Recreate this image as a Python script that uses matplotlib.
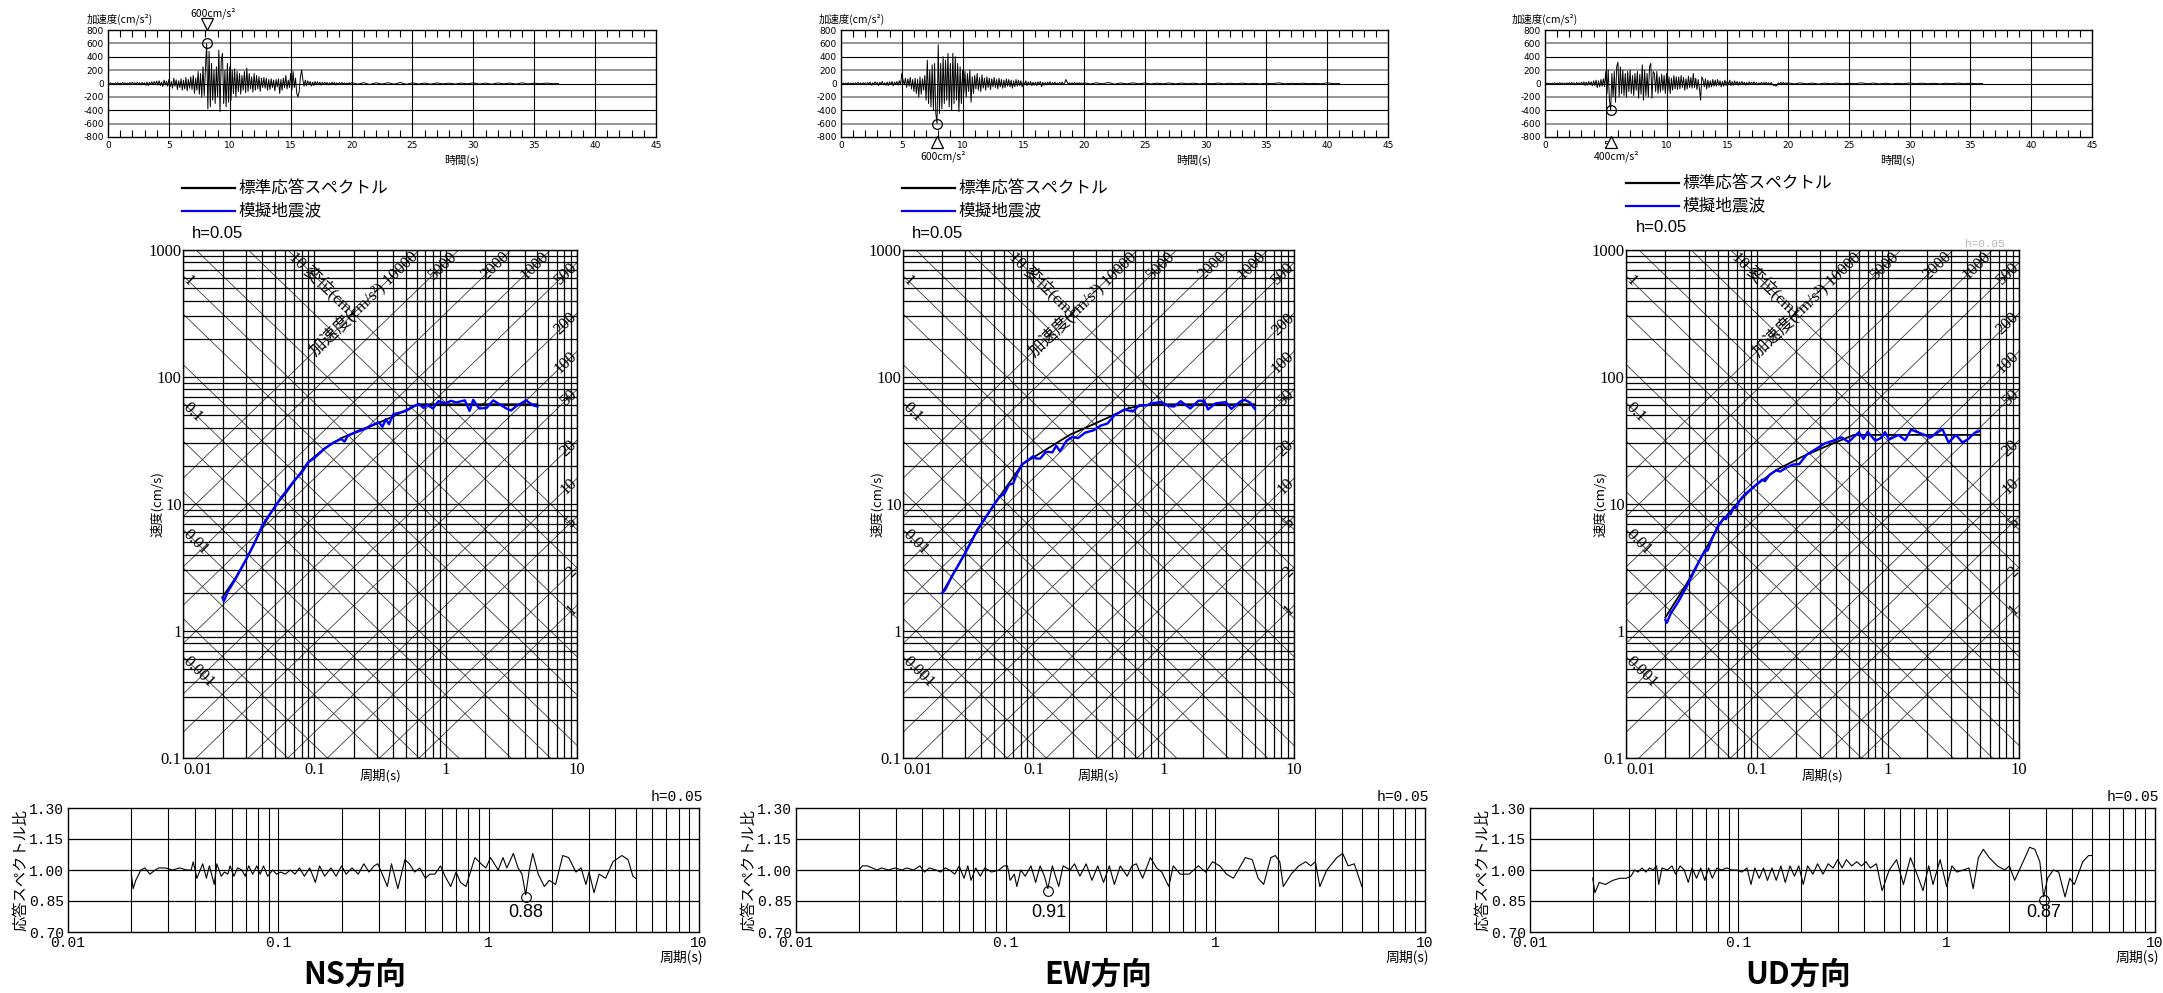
import numpy as np
import matplotlib
matplotlib.use('Agg')
from matplotlib import pyplot as plt
from matplotlib.lines import Line2D
from matplotlib.ticker import LogLocator, NullFormatter
from matplotlib.transforms import blended_transform_factory

plt.rcParams['font.family'] = ['Noto Sans CJK JP', 'DejaVu Sans']
plt.rcParams['axes.linewidth'] = 1.0

SERIF = ['Liberation Serif', 'Noto Sans CJK JP']
MONO = ['Liberation Mono', 'Noto Sans CJK JP']
SANS = ['Liberation Sans', 'Noto Sans CJK JP']
BLUE = '#0000ff'

# ---------------- acceleration time histories (cm/s2) ----------------
# first part: 0.1 s steps from 0 s to 19.9 s, tail: 0.5 s steps from 20 s
ns_acc = [5, -8, 10, -6, 4, -10, 8, -5, 12, -4,
          6, -10, 15, -8, 10, -12, 5, -6, 14, -9,
          20, -10, 12, -15, 18, -8, 10, -20, 15, -12,
          10, -25, 20, -30, 15, -10, 25, -20, 30, -15,
          35, -25, 40, -30, 20, -45, 50, -20, 35, -40,
          60, -50, 30, -70, 80, -40, 55, -90, 40, -60,
          70, -100, 50, -80, 90, -110, 60, -70, 100, -90,
          120, -150, 80, -100, 180, -160, 150, -200, 250, -180,
          200, 600, -380, 480, -350, 300, -250, 200, -300, 250,
          -200, 500, -420, 350, 450, -300, 200, -350, 300, -280,
          250, -250, 200, -150, 220, -200, 180, -120, 150, -160,
          120, -100, 180, -140, 230, -120, 150, -80, 100, -130,
          150, -100, 120, -80, 100, -120, 80, -60, 90, -70,
          80, -100, 60, -90, 70, -60, 50, -110, 60, -50,
          70, -150, 60, -100, 80, -60, 120, -80, 50, -60,
          150, -100, 180, -60, 80, -150, -200, -120, 100, 200,
          60, -40, 50, -30, 40, -20, 30, -40, 20, -30,
          30, -20, 25, -15, 20, -25, 15, -10, 20, -15,
          15, -20, 10, -15, 20, -10, 15, -20, 10, -12,
          12, -10, 15, -8, 10, -12, 8, -10, 12, -8]
ns_acc_tail = [15, -10, 12, -15, 10, -8, 12, -10, 15, -12, 10, -8, 6, -10, 8, -6, 5, -8,
               6, -5, 10, -8, 6, -10, 8, -5, 6, -8, 10, -6, 5, -4, 6, -3, 0]

ew_acc = [10, -5, 8, -10, 6, -4, 12, -8, 5, -6,
          8, -12, 10, -6, 15, -10, 8, -15, 12, -5,
          10, -20, 15, -10, 20, -25, 10, -15, 25, -10,
          15, -30, 20, -15, 30, -20, 10, -25, 20, -30,
          25, -20, 30, -35, 20, -15, 30, -25, 40, -20,
          150, 60, -20, 80, -60, 70, -40, 90, -80, 60,
          -120, 80, -150, 60, -200, 100, -160, 70, -100, 120,
          -250, 350, -300, 200, -350, 280, -400, 300, -450, -600,
          580, -450, 300, -380, 400, -300, 350, -250, 450, -350,
          300, -400, 450, -300, 400, -250, 300, -420, 250, -300,
          200, -150, 180, -200, 150, -120, 200, -280, 100, -150,
          120, -80, 150, -100, 90, -120, 130, -70, 80, -100,
          100, -60, 80, -90, 70, -50, 90, -60, 60, -80,
          80, -50, 60, -70, 50, -60, 70, -40, 60, -50,
          50, -70, 40, -50, 60, -40, 50, -30, 40, -50,
          30, -20, 40, -30, 25, -20, 30, -35, 20, -25,
          20, -30, 25, -15, 30, -50, 20, -25, 15, -20,
          20, -15, 25, -20, 15, -10, 20, -15, 10, -12,
          15, -10, 20, -15, 10, 60, 20, -15, 10, -8,
          10, -12, 15, -8, 10, -10, 12, -6, 8, -10]
ew_acc_tail = [12, -8, 10, -6, 15, -10, 8, -6, 10, -5, 8, -6, 5, -4, 8, -5, 6, -4, 5, -6,
               4, -3, 6, -5, 4, -3, 5, -4, 3, -5, 4, -3, 10, -4, 3, -2, 4, -3, 2, -5, 10, -3, 0]

ud_acc = [5, -4, 8, -6, 4, -8, 6, -5, 8, -4,
          6, -8, 10, -6, 8, -10, 6, -8, 10, -6,
          12, -10, 15, -8, 10, -20, 15, -12, 10, -15,
          20, -15, 25, -30, 20, -25, 30, -20, 25, -35,
          40, -30, 50, -60, 40, -50, 60, -40, 70, -50,
          180, -150, 200, -250, -400, 150, -200, 180, -280, 250,
          320, -200, 250, -150, 200, -180, 150, -200, 180, -120,
          200, -150, 120, -180, 150, -100, 180, -220, 140, -160,
          280, -250, 200, -180, 150, -200, 250, 300, -220, 180,
          150, -120, 180, -150, 100, -130, 140, -100, 120, -150,
          150, -120, 100, -150, 80, -100, 120, -80, 100, -90,
          100, -80, 120, -60, 90, -100, 70, -80, 110, -60,
          90, -70, 150, -60, 80, -90, 60, -70, -250, 100,
          60, -50, 70, -80, 50, -60, 40, -50, 60, -40,
          50, -40, 60, -30, 40, -50, 30, -40, 50, -30,
          40, -20, 50, -30, 30, -25, 40, -20, 30, -25,
          25, -20, 30, -15, 20, -25, 15, -20, 25, -10,
          20, -15, 25, -10, 15, -20, 10, -15, 20, -10,
          15, -10, 20, -15, 10, -20, 15, -10, -30, -20,
          -40, -20, 10, -15, 20, -10, 15, -8, 10, -5]
ud_acc_tail = [10, -6, 8, -5, 6, -8, 5, -4, 6, -5, 4, -3, 10, -4, 6, -5, 4, -6, 3, -4,
               8, -3, 5, -4, 3, -5, 4, -3, 6, -4, 5, -3, 0]

# ---------------- velocity response spectra (cm/s) ----------------
ns_std_T = [0.02, 0.025, 0.03, 0.04, 0.05, 0.06, 0.07, 0.09, 0.12, 0.16, 0.22, 0.3, 0.4, 0.5, 0.62, 5.0]
ns_std_V = [1.85, 2.6, 3.6, 6.5, 9.6, 12.0, 15.0, 21.5, 27.5, 33, 38, 43, 49, 55, 61, 61]
ns_sim_T = [0.02, 0.0205, 0.022, 0.025, 0.03, 0.035, 0.04, 0.045, 0.05, 0.055,
            0.06, 0.07, 0.08, 0.09, 0.1, 0.12, 0.14, 0.16, 0.17, 0.18,
            0.2, 0.22, 0.25, 0.28, 0.31, 0.33, 0.35, 0.37, 0.4, 0.45,
            0.5, 0.55, 0.62, 0.68, 0.72, 0.8, 0.88, 1.0, 1.1, 1.2,
            1.4, 1.52, 1.62, 1.8, 2.05, 2.3, 2.6, 2.9, 3.15, 3.45, 4.1, 4.6, 5.0]
ns_sim_V = [1.82, 1.72, 2.05, 2.55, 3.6, 4.9, 6.7, 8.1, 9.4, 11.0,
            12.3, 15.2, 17.6, 21.3, 23.0, 27.3, 30.5, 32.5, 31.0, 34.5,
            36.2, 37.5, 39.5, 42.0, 44.0, 40.5, 46.5, 42.5, 51.0, 52.5,
            54.0, 57.5, 61.5, 57.0, 60.5, 56.5, 64.5, 62.0, 65.0, 63.0,
            65.5, 54.0, 66.0, 56.5, 57.0, 65.5, 60.5, 56.5, 54.5, 59.0, 65.5, 60.0, 58.5]

ew_std_T = [0.02, 0.027, 0.037, 0.055, 0.082, 0.13, 0.19, 0.32, 0.54, 0.8, 5.0]
ew_std_V = [2.0, 3.4, 6.2, 11.4, 20.5, 27.5, 35, 44.5, 57, 61, 61]
ew_sim_T = [0.02, 0.021, 0.024, 0.027, 0.03, 0.034, 0.037, 0.04, 0.045, 0.05,
            0.055, 0.06, 0.065, 0.07, 0.075, 0.082, 0.09, 0.1, 0.105, 0.113,
            0.125, 0.14, 0.15, 0.16, 0.18, 0.2, 0.22, 0.25, 0.29, 0.33,
            0.37, 0.42, 0.5, 0.58, 0.65, 0.75, 0.8, 0.95, 1.1, 1.2,
            1.35, 1.6, 1.85, 2.05, 2.19, 2.5, 3.0, 3.3, 3.9, 4.2, 4.6, 5.0]
ew_sim_V = [2.0, 2.1, 2.75, 3.4, 4.1, 5.2, 6.2, 7.0, 8.4, 9.9,
            11.4, 12.0, 14.2, 14.5, 17.3, 20.5, 22.0, 23.8, 22.8, 22.8,
            25.8, 25.5, 28.8, 26.0, 31.5, 33.8, 33.0, 36.5, 38.0, 41.5,
            43.0, 50.0, 55.5, 53.5, 60.0, 60.0, 62.0, 63.5, 59.0, 58.5,
            64.5, 56.5, 65.0, 65.0, 55.5, 62.0, 63.5, 56.0, 64.5, 66.0, 63.0, 56.0]

ud_std_T = [0.02, 0.029, 0.04, 0.052, 0.07, 0.094, 0.14, 0.22, 0.38, 0.55, 5.0]
ud_std_V = [1.28, 2.35, 4.3, 7.0, 10.0, 13.6, 18.5, 23.5, 30, 35, 35]
ud_sim_T = [0.02, 0.0205, 0.022, 0.025, 0.029, 0.033, 0.036, 0.04, 0.042, 0.045,
            0.05, 0.056, 0.058, 0.06, 0.063, 0.066, 0.07, 0.073, 0.08, 0.094,
            0.11, 0.115, 0.125, 0.14, 0.15, 0.17, 0.19, 0.21, 0.24, 0.28,
            0.33, 0.38, 0.44, 0.5, 0.6, 0.65, 0.7, 0.8, 0.88, 0.95,
            1.02, 1.2, 1.35, 1.5, 1.9, 2.1, 2.6, 2.9, 3.3, 3.7, 4.1, 4.6, 5.0]
ud_sim_V = [1.22, 1.16, 1.38, 1.69, 2.23, 2.92, 3.5, 4.3, 4.3, 5.2,
            6.6, 7.8, 7.6, 8.3, 8.3, 9.3, 9.4, 10.5, 11.8, 13.6,
            15.6, 15.1, 17.0, 18.4, 18.0, 19.5, 20.5, 20.6, 24.5, 27.0,
            30.0, 31.5, 33.5, 30.8, 36.8, 32.5, 37.0, 31.5, 33.0, 36.8,
            32.2, 35.0, 31.8, 38.5, 35.0, 33.3, 38.9, 30.5, 35.0, 30.5, 32.5, 36.4, 37.5]

# ---------------- response spectrum ratio ----------------
ns_ratio_T = [0.020, 0.0204, 0.021, 0.0222, 0.0232, 0.0245, 0.026, 0.027, 0.029, 0.0314,
              0.034, 0.0366, 0.0385, 0.0394, 0.041, 0.0437, 0.0455, 0.047, 0.0496, 0.051,
              0.0535, 0.0555, 0.0575, 0.059, 0.0615, 0.064, 0.0671, 0.0695, 0.0723, 0.0755,
              0.079, 0.082, 0.085, 0.089, 0.094, 0.098, 0.103, 0.108, 0.114, 0.12,
              0.126, 0.133, 0.141, 0.15, 0.157, 0.166, 0.178, 0.188, 0.2, 0.21,
              0.224, 0.24, 0.255, 0.27, 0.285, 0.297, 0.312, 0.33, 0.345, 0.37,
              0.40, 0.42, 0.445, 0.47, 0.50, 0.525, 0.555, 0.59, 0.62, 0.66,
              0.70, 0.735, 0.78, 0.86, 0.92, 0.97, 1.02, 1.11, 1.17, 1.22,
              1.31, 1.38, 1.44, 1.50, 1.56, 1.62, 1.72, 1.84, 1.94, 2.08,
              2.25, 2.4, 2.6, 2.75, 2.9, 3.0, 3.17, 3.35, 3.6, 3.9,
              4.3, 4.6, 4.85, 5.0]
ns_ratio = [0.98, 0.91, 0.95, 1.00, 1.01, 0.98, 1.00, 1.01, 1.01, 1.00,
            1.01, 1.00, 1.00, 1.04, 0.96, 1.03, 0.96, 1.02, 0.93, 1.03,
            0.97, 0.99, 0.98, 1.02, 0.97, 1.01, 1.00, 0.97, 1.02, 0.98,
            1.02, 0.98, 1.02, 0.97, 1.00, 0.98, 0.99, 0.98, 1.00, 0.98,
            1.01, 0.97, 1.01, 0.94, 1.02, 0.97, 1.01, 0.97, 1.02, 0.98,
            1.01, 0.98, 1.03, 0.99, 1.02, 1.03, 0.98, 0.92, 1.03, 0.91,
            1.05, 1.03, 0.99, 1.01, 0.96, 0.98, 0.98, 1.02, 0.97, 0.92,
            0.99, 0.94, 0.92, 1.06, 1.03, 1.01, 1.06, 1.00, 1.06, 1.01,
            1.08, 1.01, 0.98, 0.88, 1.00, 1.08, 0.98, 0.92, 0.95, 0.93,
            1.07, 1.06, 0.99, 1.01, 0.93, 0.99, 0.89, 0.98, 0.96, 1.04,
            1.07, 1.05, 0.97, 0.96]

ew_ratio_T = [0.020, 0.0207, 0.0219, 0.0231, 0.0243, 0.0256, 0.0276, 0.0297, 0.032, 0.0337,
              0.0364, 0.039, 0.041, 0.0432, 0.0465, 0.049, 0.0515, 0.054, 0.0572, 0.060,
              0.0633, 0.066, 0.0684, 0.072, 0.0757, 0.0795, 0.0857, 0.093, 0.098, 0.102,
              0.105, 0.11, 0.113, 0.118, 0.124, 0.132, 0.139, 0.146, 0.153, 0.159,
              0.167, 0.179, 0.188, 0.203, 0.213, 0.226, 0.242, 0.258, 0.275, 0.293,
              0.312, 0.33, 0.352, 0.38, 0.40, 0.42, 0.45, 0.49, 0.525, 0.555,
              0.60, 0.63, 0.68, 0.75, 0.83, 0.90, 0.97, 1.05, 1.13, 1.22,
              1.39, 1.5, 1.6, 1.70, 1.84, 1.93, 2.03, 2.11, 2.3, 2.5,
              2.7, 2.85, 3.0, 3.15, 3.4, 3.8, 4.05, 4.3, 4.6, 5.0]
ew_ratio = [1.00, 1.02, 1.02, 1.01, 1.00, 1.01, 1.00, 1.01, 1.00, 1.01,
            1.00, 1.02, 0.99, 1.01, 1.00, 0.99, 1.01, 1.00, 0.98, 1.02,
            0.96, 1.02, 0.95, 1.01, 0.97, 1.01, 0.99, 1.00, 1.02, 1.02,
            0.95, 0.98, 0.92, 1.00, 0.97, 1.02, 0.94, 1.02, 0.97, 0.91,
            1.02, 0.92, 1.02, 1.00, 1.03, 0.97, 1.03, 0.95, 1.02, 0.94,
            1.02, 0.93, 1.02, 0.97, 1.02, 1.03, 0.96, 1.06, 1.01, 0.99,
            0.92, 1.02, 0.98, 0.98, 1.02, 0.99, 1.04, 1.02, 0.98, 0.96,
            1.06, 1.05, 0.96, 0.93, 1.06, 1.07, 1.04, 0.92, 0.98, 1.02,
            1.04, 1.02, 1.04, 0.92, 1.00, 1.06, 1.08, 1.02, 1.03, 0.92]

ud_ratio_T = [0.020, 0.0205, 0.0215, 0.023, 0.025, 0.027, 0.029, 0.0305, 0.0318, 0.033,
              0.0345, 0.036, 0.0375, 0.039, 0.0405, 0.0415, 0.043, 0.0456, 0.048, 0.050,
              0.0526, 0.055, 0.0575, 0.060, 0.063, 0.066, 0.069, 0.072, 0.075, 0.079,
              0.083, 0.088, 0.093, 0.098, 0.104, 0.11, 0.115, 0.12, 0.126, 0.132,
              0.138, 0.145, 0.152, 0.16, 0.168, 0.177, 0.186, 0.195, 0.205, 0.215,
              0.228, 0.24, 0.255, 0.27, 0.285, 0.30, 0.315, 0.33, 0.35, 0.37,
              0.39, 0.41, 0.43, 0.46, 0.49, 0.53, 0.575, 0.62, 0.67, 0.72,
              0.77, 0.82, 0.86, 0.93, 1.0, 1.06, 1.12, 1.2, 1.28, 1.34,
              1.42, 1.5, 1.6, 1.75, 1.9, 2.0, 2.12, 2.28, 2.5, 2.65,
              2.8, 2.92, 3.05, 3.25, 3.45, 3.7, 3.9, 4.1, 4.5, 4.8, 5.0]
ud_ratio = [0.96, 0.89, 0.94, 0.93, 0.95, 0.96, 0.96, 0.97, 1.00, 0.99,
            1.01, 0.99, 1.01, 1.00, 1.02, 0.93, 1.01, 1.00, 1.02, 0.98,
            1.02, 1.00, 0.94, 1.01, 0.96, 1.01, 0.95, 1.01, 0.96, 1.01,
            1.00, 1.01, 1.00, 1.00, 0.99, 1.01, 0.93, 1.01, 0.96, 1.01,
            0.95, 1.01, 0.95, 1.02, 0.94, 1.02, 0.97, 1.02, 0.93, 1.02,
            0.98, 1.03, 0.98, 1.03, 1.01, 1.05, 1.01, 1.05, 1.02, 1.04,
            1.02, 1.04, 1.01, 1.03, 0.90, 1.00, 1.05, 0.93, 1.06, 0.98,
            0.90, 1.02, 0.93, 1.05, 0.92, 1.02, 0.99, 1.00, 1.01, 0.91,
            1.06, 1.10, 1.06, 1.02, 1.00, 1.02, 0.95, 1.02, 1.11, 1.10,
            1.04, 0.87, 0.96, 1.00, 0.99, 0.87, 0.96, 0.93, 1.04, 1.07, 1.07]

# minimum ratio markers: period, value, label
ns_min = (1.50, 0.88, '0.88')
ew_min = (0.16, 0.91, '0.91')
ud_min = (2.92, 0.87, '0.87')

# peak accelerations: time, value, label
ns_peak = (8.1, 600, '600cm/s²')
ew_peak = (7.9, -600, '600cm/s²')
ud_peak = (5.4, -400, '400cm/s²')

# tripartite guide lines: displacement (cm) and acceleration (cm/s2)
disp_lines = [0.001, 0.002, 0.005, 0.01, 0.02, 0.05, 0.1, 0.2, 0.5, 1, 2, 5, 10]
acc_lines = [1, 2, 5, 10, 20, 50, 100, 200, 500, 1000, 2000, 5000, 10000]

# ---------------- figure ----------------
W, H = 2163, 993
fig = plt.figure(figsize=(W / 100, H / 100), dpi=100)


def px_axes(l, t, r, b):
    return fig.add_axes([l / W, 1 - b / H, (r - l) / W, (b - t) / H])


def ftext(x, y, s, **kw):
    return fig.text(x / W, 1 - y / H, s, **kw)


def fline(x0, x1, y, **kw):
    fig.add_artist(Line2D([x0 / W, x1 / W], [1 - y / H] * 2, transform=fig.transFigure, **kw))


def accel_panel(box, acc, tail, peak, lab_dx):
    l, t, r, b = box
    ax = px_axes(*box)
    times = np.concatenate([np.arange(len(acc)) * 0.1, 20 + np.arange(len(tail)) * 0.5])
    ax.plot(times, np.concatenate([acc, tail]), color='black', lw=0.7, zorder=3)
    for y in (600, 200, -200, -600):
        ax.axhline(y, color='#8c8c8c', lw=1.3, zorder=1)
    for y in (400, 0, -400):
        ax.axhline(y, color='black', lw=0.8, zorder=1)
    for x in range(5, 45, 5):
        ax.axvline(x, color='black', lw=0.8, zorder=1)
    ax.set_xlim(0, 45)
    ax.set_ylim(-800, 800)
    ax.set_xticks(range(0, 46, 5))
    ax.set_xticklabels([str(v) for v in range(0, 46, 5)], fontfamily='DejaVu Sans', fontsize=6.5)
    ax.set_xticks(range(46), minor=True)
    ax.set_yticks(range(-800, 801, 200))
    ax.set_yticklabels([str(v) for v in range(-800, 801, 200)], fontfamily='DejaVu Sans', fontsize=6.5)
    ax.tick_params(which='major', length=0, pad=3)
    ax.tick_params(which='minor', direction='in', length=5, width=0.8, top=True, bottom=True)
    pt, pa, ptxt = peak
    ax.plot(pt, pa, 'o', ms=7, mfc='none', mec='black', mew=0.9, zorder=4)
    tr = blended_transform_factory(ax.transData, ax.transAxes)
    if pa > 0:
        ax.plot(pt, 1.06, marker='v', ms=8, mfc='white', mec='black', mew=0.9, transform=tr, clip_on=False)
        ax.text(pt + 0.5, 1.16, ptxt, transform=tr, ha='center', va='center', fontsize=7.5)
    else:
        ax.plot(pt, -0.05, marker='^', ms=8, mfc='white', mec='black', mew=0.9, transform=tr, clip_on=False)
        ax.text(pt + 0.5, -0.18, ptxt, transform=tr, ha='center', va='center', fontsize=7.5)
    ftext(l - lab_dx, 19, '加速度(cm/s²)', fontsize=7.5, va='center')
    ftext(l + 0.645 * (r - l), 160, '時間(s)', fontsize=8, ha='center', va='center')


def tripartite_panel(box, std_T, std_V, sim_T, sim_V):
    l, t, r, b = box
    ax = px_axes(*box)
    ax.set_xscale('log')
    ax.set_yscale('log')
    T_end = np.array([0.01, 10.0])
    for d in disp_lines:
        ax.plot(T_end, 2 * np.pi * d / T_end, color='#303030', lw=0.55, zorder=1)
    for a in acc_lines:
        ax.plot(T_end, a * T_end / (2 * np.pi), color='#303030', lw=0.55, zorder=1)
    ax.set_xlim(0.01, 10)
    ax.set_ylim(0.1, 1000)
    for axis in (ax.xaxis, ax.yaxis):
        axis.set_minor_locator(LogLocator(base=10, subs=np.arange(2, 10), numticks=20))
        axis.set_minor_formatter(NullFormatter())
    ax.grid(True, which='both', color='black', lw=0.9, zorder=0)
    ax.tick_params(which='both', length=0)
    ax.set_xticks([0.01, 0.1, 1, 10])
    ax.set_xticklabels(['0.01', '0.1', '1', '10'], fontfamily=SERIF, fontsize=12)
    ax.get_xticklabels()[0].set_horizontalalignment('left')
    ax.set_yticks([0.1, 1, 10, 100, 1000])
    ax.set_yticklabels(['0.1', '1', '10', '100', '1000'], fontfamily=SERIF, fontsize=12)
    ax.tick_params(axis='y', pad=1)
    ax.tick_params(axis='x', pad=3)

    ang = np.degrees(np.arctan(((b - t) / 4) / ((r - l) / 3)))
    kw = dict(rotation_mode='anchor', va='center', fontfamily=SERIF, fontsize=12, zorder=2)
    for d, s in [(1, '1'), (0.1, '0.1'), (0.01, '0.01'), (0.001, '0.001')]:
        ax.text(0.0104, 2 * np.pi * d / 0.0104, s, rotation=-ang, ha='left', **kw)
    ax.text(0.068, 2 * np.pi * 10 / 0.068, '10 変位(cm)', rotation=-ang, ha='left', **kw)
    for a in [500, 200, 100, 50, 20, 10, 5, 2, 1]:
        ax.text(9.6, a * 9.6 / (2 * np.pi), str(a), rotation=ang, ha='right', **kw)
    for a, s in [(10000, '加速度(cm/s²) 10000'), (5000, '5000'), (2000, '2000'), (1000, '1000')]:
        ax.text(2 * np.pi * 930 / a, 930, s, rotation=ang, ha='right', **kw)

    ax.plot(std_T, std_V, color='black', lw=1.3, zorder=3)
    ax.plot(sim_T, sim_V, color=BLUE, lw=1.7, zorder=4)
    ftext(l - 26, (t + b) / 2, '速度(cm/s)', rotation=90, ha='center', va='center', fontsize=9.5)
    ftext((l + r) / 2, 776, '周期(s)', ha='center', va='center', fontsize=9.5)


def ratio_panel(box, T, ratio, low, title, title_x):
    l, t, r, b = box
    ax = px_axes(*box)
    ax.set_xscale('log')
    for dec in (0.01, 0.1, 1):
        for m in range(1, 10):
            if dec * m > 0.015:
                ax.axvline(dec * m, color='black', lw=0.8, zorder=1)
    for y in (0.85, 1.0, 1.15):
        ax.axhline(y, color='black', lw=0.9, zorder=1)
    ax.plot(T, ratio, color='black', lw=0.8, zorder=3)
    lt, lv, ls = low
    ax.plot(lt, lv - 0.013, 'o', ms=7, mfc='none', mec='black', mew=0.8, zorder=4)
    ax.text(lt, 0.795, ls, ha='center', va='center', fontfamily=SANS, fontsize=13)
    ax.set_xlim(0.01, 10)
    ax.set_ylim(0.70, 1.30)
    ax.set_xticks([0.01, 0.1, 1, 10])
    ax.set_xticklabels(['0.01', '0.1', '1', '10'], fontfamily=MONO, fontsize=10.5)
    ax.xaxis.set_minor_locator(plt.NullLocator())
    ax.set_yticks([0.70, 0.85, 1.00, 1.15, 1.30])
    ax.set_yticklabels(['0.70', '0.85', '1.00', '1.15', '1.30'], fontfamily=MONO, fontsize=10.5)
    ax.tick_params(which='both', length=0, pad=3)
    ftext(l - 47, (t + b) / 2, '応答スペクトル比', rotation=90, ha='center', va='center', fontsize=11)
    ftext(r + 4, 797, 'h=0.05', ha='right', va='center', fontfamily=MONO, fontsize=10.5)
    ftext(r + 4, 957, '周期(s)', ha='right', va='center', fontsize=10)
    ftext(title_x, 975, title, ha='center', va='center', fontsize=22, fontweight='bold')


def legend_block(x0, y0):
    fline(x0, x0 + 53, y0, color='black', lw=1.6)
    fline(x0, x0 + 53, y0 + 23, color=BLUE, lw=1.6)
    ftext(x0 + 56, y0, '標準応答スペクトル', va='center', fontsize=12)
    ftext(x0 + 56, y0 + 23, '模擬地震波', va='center', fontsize=12)
    ftext(x0 + 10, y0 + 45, 'h=0.05', va='center', fontfamily=SANS, fontsize=12)


columns = [
    dict(th=(108, 30, 656, 137), tri=(183, 250, 577, 758), rat=(68, 808, 699, 932),
         acc=ns_acc, tail=ns_acc_tail, peak=ns_peak, lab_dx=21, leg=(182, 188),
         std=(ns_std_T, ns_std_V), sim=(ns_sim_T, ns_sim_V),
         ratio=(ns_ratio_T, ns_ratio), low=ns_min, title='NS方向', tx=355),
    dict(th=(841, 30, 1388, 137), tri=(903, 250, 1294, 758), rat=(796, 808, 1425, 932),
         acc=ew_acc, tail=ew_acc_tail, peak=ew_peak, lab_dx=22, leg=(902, 188),
         std=(ew_std_T, ew_std_V), sim=(ew_sim_T, ew_sim_V),
         ratio=(ew_ratio_T, ew_ratio), low=ew_min, title='EW方向', tx=1098),
    dict(th=(1545, 30, 2092, 137), tri=(1626, 250, 2019, 758), rat=(1530, 808, 2155, 932),
         acc=ud_acc, tail=ud_acc_tail, peak=ud_peak, lab_dx=33, leg=(1626, 183),
         std=(ud_std_T, ud_std_V), sim=(ud_sim_T, ud_sim_V),
         ratio=(ud_ratio_T, ud_ratio), low=ud_min, title='UD方向', tx=1798),
]

for c in columns:
    accel_panel(c['th'], c['acc'], c['tail'], c['peak'], c['lab_dx'])
    legend_block(*c['leg'])
    tripartite_panel(c['tri'], *c['std'], *c['sim'])
    ratio_panel(c['rat'], *c['ratio'], c['low'], c['title'], c['tx'])

# faint leftover label above the UD spectrum
ftext(1985, 244, 'h=0.05', ha='center', va='center', fontfamily=MONO, fontsize=8, color='#b5b5b5')

fig.savefig('out.png', dpi=100)
